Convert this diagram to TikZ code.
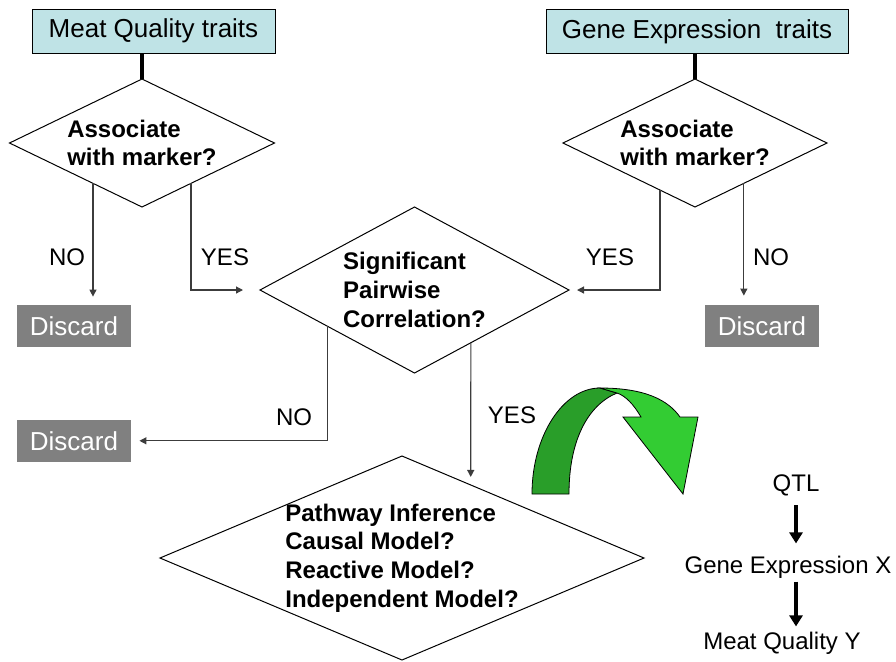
\documentclass[tikz,border=0pt]{standalone}
\usepackage{fontspec}
\setmainfont{Liberation Sans}
\usepackage{xcolor}
\usepackage{tikz}
\usetikzlibrary{arrows.meta,positioning,shapes.geometric,calc}

\definecolor{traitcyan}{RGB}{191,227,230}
\definecolor{discardgray}{RGB}{128,128,128}
\definecolor{ribbondark}{RGB}{41,158,41}
\definecolor{ribbonlight}{RGB}{51,204,51}
\definecolor{linegray}{RGB}{60,60,60}

\begin{document}
\begin{tikzpicture}[
				x=0.5pt, y=-0.5pt,
				box/.style={rectangle, draw, line width=0.5pt, fill=traitcyan, minimum height=22pt, inner sep=0pt, font=\fontsize{13}{15}\selectfont},
				decision/.style={diamond, draw, line width=0.5pt, inner sep=0pt, outer sep=0pt, align=left, font=\fontsize{12}{14.4}\selectfont\bfseries},
				discard/.style={rectangle, fill=discardgray, text=white, minimum width=57pt, minimum height=21pt, inner sep=0pt, font=\fontsize{13}{15}\selectfont},
				lbl/.style={inner sep=0pt, font=\fontsize{12}{14}\selectfont},
				arrow/.style={linegray, line width=0.6pt, -{Triangle[length=3.5pt,width=3.5pt]}, shorten >=4pt},
				stem/.style={line width=1.6pt},
				chain/.style={line width=2pt, -{Triangle[length=5.5pt,width=6.5pt]}}
				]
				\useasboundingbox (0,0) rectangle (896,661);
				
				\node (MQ) [box, minimum width=121.5pt] at (153.5,31) {Meat Quality traits};
				\node (GE) [box, minimum width=151pt] at (697,31.5) {Gene Expression~~traits};
				
				\node (A1) [decision, aspect=2.07, minimum width=132.5pt, minimum height=64pt] at (142,143) {Associate\\with marker?};
				\node (A2) [decision, aspect=2.07, minimum width=132pt, minimum height=64pt] at (695,143) {Associate\\with marker?};
				\node (S) [decision, aspect=1.86, minimum width=154.5pt, minimum height=83pt] at (414.5,290) {Significant\\Pairwise\\Correlation?};
				\node (P) [decision, aspect=2.37, inner sep=-1.5pt, minimum width=242pt, minimum height=102pt] at (402,558) {Pathway Inference\\Causal Model?\\Reactive Model?\\Independent Model?};
				
				\node (X1) [discard] at (74,326) {Discard};
				\node (X2) [discard, below=36pt of X1] {Discard};
				\node (X3) [discard] at (762,326) {Discard};
				
				\node (n1) [lbl] at (67,257) {NO};
				\node (y1) [lbl] at (225,257) {YES};
				\node (y3) [lbl] at (610,257) {YES};
				\node (n3) [lbl] at (771,257) {NO};
				\node (n2) [lbl] at (294,417) {NO};
				\node (y2) [lbl] at (512,415) {YES};
				
				\node (Q) [lbl] at (796,485) {QTL};
				\node (G) [lbl] at (788,567) {Gene Expression X};
				\node (M) [lbl] at (782,643) {Meat Quality Y};
				
				% where the branches leave the diamonds
				\coordinate (a1l) at ($(A1.south)!0.37!(A1.west)$);
				\coordinate (a1r) at ($(A1.south)!0.37!(A1.east)$);
				\coordinate (a2l) at ($(A2.south)!0.265!(A2.west)$);
				\coordinate (a2r) at ($(A2.south)!0.37!(A2.east)$);
				\coordinate (sl) at ($(S.south)!0.565!(S.west)$);
				\coordinate (sr) at ($(S.south)!0.365!(S.east)$);
				\coordinate (pin) at ($(P.north)!0.284!(P.east)$);
				
				\draw [stem] (MQ.south -| A1.north) -- (A1.north);
				\draw [stem] (GE.south -| A2.north) -- (A2.north);
				\draw [arrow] (a1l) -- (a1l |- X1.north);
				\draw [arrow, shorten >=8.5pt] (a1r) |- (S.west);
				\draw [arrow, shorten >=4.5pt] (a2r) -- (a2r |- X3.north);
				\draw [arrow] (a2l) |- (S.east);
				\draw [arrow] (sl) |- (X2.east);
				\draw [arrow] (sr) -- (pin);
				
				% green ribbon arrow
				\filldraw [fill=ribbondark, draw=black, line width=0.4pt] (532,494) .. controls (532,436) and (563,388) .. (600,388) -- (617,393) .. controls (588,405) and (569,440) .. (569,494) -- cycle;
				\filldraw [fill=ribbonlight, draw=black, line width=0.4pt] (600,388) .. controls (645,388) and (668,400) .. (680,417) -- (698,417) -- (683,494) -- (623,417) -- (641,417) .. controls (634,405) and (626,396) .. (617,393) -- cycle;
				
				\draw [chain, shorten <=4.5pt, shorten >=6pt] (Q.south) -- (Q.south |- G.north);
				\draw [chain, shorten <=1.5pt, shorten >=2.5pt] (Q.south |- G.south) -- (Q.south |- M.north);
			\end{tikzpicture}
\end{document}
